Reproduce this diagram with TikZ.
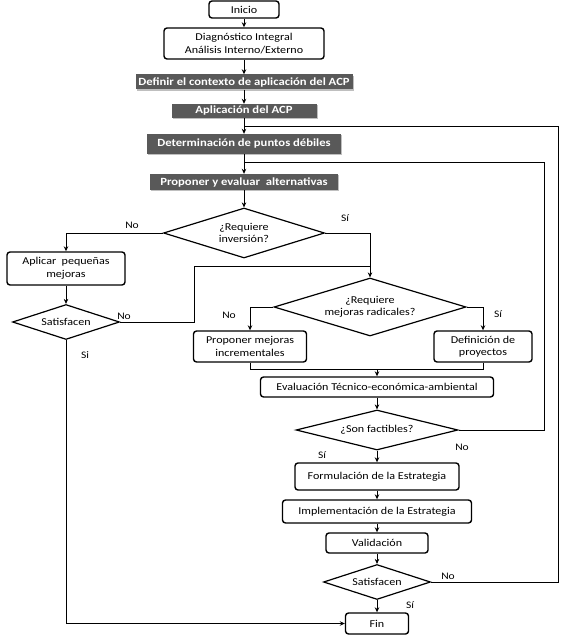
\documentclass[tikz,border=0pt]{standalone}
\usepackage{fontspec}
\setmainfont{Carlito}[FakeStretch=1.15]
\usetikzlibrary{shapes.geometric,arrows.meta,shadows}
\definecolor{darkbox}{HTML}{595959}
\begin{document}
\begin{tikzpicture}[x=1pt,y=-1pt,
 wbox/.style={draw=black, line width=1.4pt, rounded corners=3pt, fill=white, align=center, inner sep=1pt, font=\fontsize{10.5}{12.5}\selectfont},
 dbox/.style={fill=darkbox, draw=none, text=white, inner sep=1pt, font=\bfseries\fontsize{11}{12}\selectfont, drop shadow={shadow xshift=1.2pt, shadow yshift=-1.2pt, fill=black!25, opacity=1}},
 dec/.style={diamond, draw=black, line width=1.2pt, fill=white, inner sep=0pt, align=center, font=\fontsize{10.5}{12.5}\selectfont},
 arr/.style={-{Stealth[length=5pt,width=4.5pt]}, line width=0.8pt},
 ln/.style={line width=0.8pt},
 lbl/.style={font=\fontsize{10}{11}\selectfont, inner sep=0pt}
]
\useasboundingbox (0,0) rectangle (562,636);

% nodes
\node[wbox, minimum width=70pt, minimum height=17pt] (inicio) at (244,9.5) {Inicio};
\node[wbox, minimum width=160pt, minimum height=31pt] (diag) at (244,43.5) {Diagnóstico Integral\\Análisis Interno/Externo};
\node[dbox, minimum width=217pt, minimum height=15pt] (ctx) at (244,82) {Definir el contexto de aplicación del ACP};
\node[dbox, minimum width=145pt, minimum height=14pt] (apl) at (244,111) {Aplicación del ACP};
\node[dbox, minimum width=194pt, minimum height=20pt] (det) at (244,144) {Determinación de puntos débiles};
\node[dbox, minimum width=188pt, minimum height=16pt] (prop) at (244,182) {Proponer y evaluar~ alternativas};
\node[dec, aspect=3.2, minimum width=161pt, minimum height=50pt] (inv) at (244,233) {¿Requiere\\inversión?};
\node[wbox, minimum width=118pt, minimum height=33pt] (peq) at (66,268.5) {Aplicar~ pequeñas\\mejoras};
\node[dec, aspect=3.05, minimum width=107pt, minimum height=35pt] (sat1) at (66,322) {Satisfacen};
\node[dec, aspect=3.3, minimum width=192pt, minimum height=58pt] (rad) at (370,307) {¿Requiere\\mejoras radicales?};
\node[wbox, minimum width=113pt, minimum height=31pt] (inc) at (250,346.5) {Proponer mejoras\\incrementales};
\node[wbox, minimum width=98pt, minimum height=31pt] (proy) at (483,346.5) {Definición de\\proyectos};
\node[wbox, minimum width=233pt, minimum height=20pt] (eval) at (377,387) {Evaluación Técnico-económica-ambiental};
\node[dec, aspect=4.05, minimum width=162pt, minimum height=40pt] (fact) at (377,430) {¿Son factibles?};
\node[wbox, minimum width=164pt, minimum height=27pt] (form) at (377,476.5) {Formulación de la Estrategia};
\node[wbox, minimum width=189pt, minimum height=23pt] (impl) at (377,511.5) {Implementación de la Estrategia};
\node[wbox, minimum width=102pt, minimum height=20pt] (val) at (377,543) {Validación};
\node[dec, aspect=3.05, minimum width=107pt, minimum height=35pt] (sat2) at (377,582) {Satisfacen};
\node[wbox, minimum width=63pt, minimum height=21pt] (fin) at (377,623.5) {Fin};

% helper coordinates
\coordinate (j1) at (194,266);
\coordinate (m) at (377,369);
\coordinate (r1) at (544,162);
\coordinate (r2) at (558,126);

% main column
\draw[arr] (inicio) -- (diag);
\draw[arr] (diag) -- (ctx);
\draw[arr] (ctx) -- (apl);
\draw[arr] (apl) -- (det);
\draw[arr] (det) -- (prop);
\draw[arr] (prop) -- (inv);

% investment decision
\draw[arr] (inv.west) -| (peq.north);
\draw[arr] (inv.east) -| (rad.north);
\draw[arr] (peq) -- (sat1);
\draw[ln] (sat1.east) -| (j1) -- (j1 -| rad.north);
\draw[arr] (sat1.south) |- (fin.west);

% radical decision
\draw[arr] (rad.west) -| (inc.north);
\draw[arr] (rad.east) -| (proy.north);
\draw[ln] (inc.south) |- (m);
\draw[ln] (proy.south) |- (m);
\draw[arr] (m) -- (eval.north);
\draw[arr] (eval) -- (fact);
\draw[ln] (fact.east) -| (r1) -- (r1 -| det.south);
\draw[arr] (fact) -- (form);
\draw[arr] (form) -- (impl);
\draw[arr] (impl) -- (val);
\draw[arr] (val) -- (sat2);
\draw[arr] (sat2) -- (fin);
\draw[ln] (sat2.east) -| (r2) -- (r2 -| apl.south);

% labels
\node[lbl] (l1) at (132,225) {No};
\node[lbl] (l2) at (345,218) {Sí};
\node[lbl] (l3) at (124,316) {No};
\node[lbl] (l4) at (85,355) {Si};
\node[lbl] (l5) at (229,315) {No};
\node[lbl] (l6) at (498,314) {Sí};
\node[lbl] (l7) at (462,447) {No};
\node[lbl] (l8) at (322,455) {Sí};
\node[lbl] (l9) at (448,576) {No};
\node[lbl] (l10) at (410,605) {Sí};
\end{tikzpicture}
\end{document}
